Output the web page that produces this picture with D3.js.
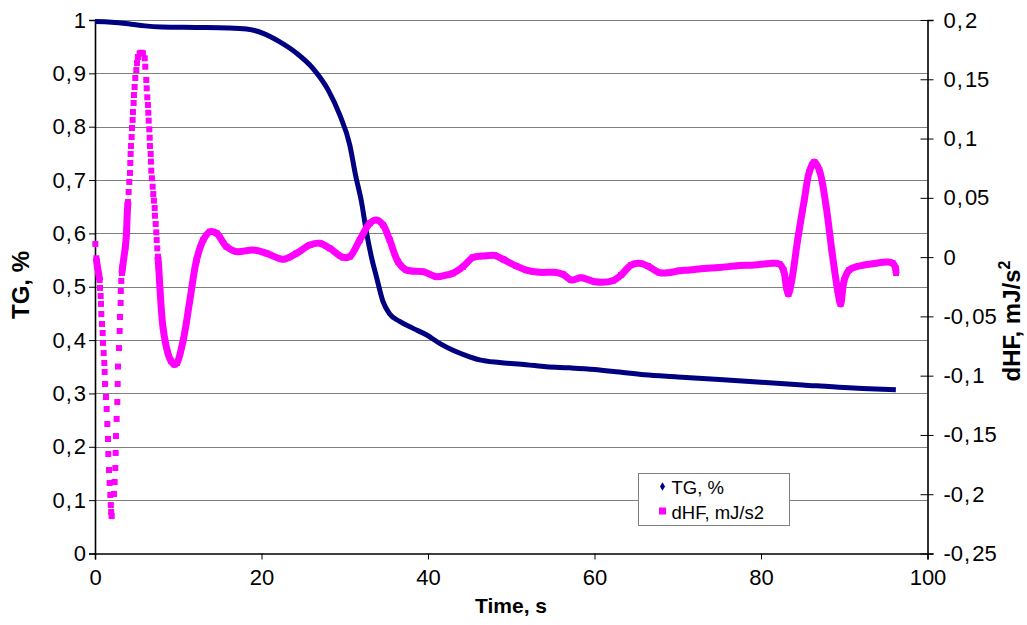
<!DOCTYPE html>
<html>
<head>
<meta charset="utf-8">
<script src="https://cdn.jsdelivr.net/npm/d3@7"></script>
<style>
  html, body { margin: 0; padding: 0; background: #fff; }
  svg { display: block; font-family: "Liberation Sans", Arial, sans-serif; }
</style>
</head>
<body>
<svg id="chart" width="1027" height="625"></svg>
<script>
// Thermogravimetric mass fraction (left axis) over time
const tgTime  = [0, 2, 4, 6, 8, 12, 16, 18.2, 20.2, 22.2, 24.2, 26.2, 28.0, 29.4, 30.6, 31.3, 32.0, 32.6, 33.2, 33.8, 34.6, 35.4, 36.6, 38.2, 39.8, 41.4, 43.0, 44.6, 46.2, 48.6, 51.8, 54.2, 57, 60, 63, 66, 70, 75, 80, 85, 90, 93, 96.2];
const tgValue = [0.997, 0.996, 0.993, 0.989, 0.987, 0.986, 0.985, 0.983, 0.975, 0.959, 0.938, 0.909, 0.869, 0.822, 0.766, 0.709, 0.660, 0.603, 0.556, 0.519, 0.472, 0.449, 0.435, 0.422, 0.410, 0.394, 0.381, 0.371, 0.363, 0.358, 0.354, 0.350, 0.348, 0.345, 0.340, 0.335, 0.331, 0.326, 0.321, 0.316, 0.311, 0.309, 0.307];

// Heat flow derivative (right axis) over time
const dhfTime = [0.04, 0.16, 0.24, 0.36, 0.56, 0.60, 0.68, 0.72, 0.76, 0.84, 0.92, 0.96, 1.04, 1.12, 1.16, 1.20, 1.32, 1.40, 1.48, 1.56, 1.60, 1.68, 1.76, 1.84, 1.90, 1.94, 2.00,
  2.28, 2.36, 2.44, 2.48, 2.52, 2.60, 2.68, 2.72, 2.76, 2.88, 2.96, 3.00, 3.08, 3.10, 3.16, 3.24, 3.32, 3.48, 3.64, 3.76, 3.80, 3.84, 3.88, 3.96,
  4.04, 4.12, 4.20, 4.24, 4.28, 4.32, 4.40, 4.44, 4.52, 4.56, 4.64, 4.68, 4.76, 4.84, 4.96, 5.04, 5.16, 5.37, 5.56, 5.76, 5.97,
  6.04, 6.16, 6.21, 6.28, 6.36, 6.40, 6.45, 6.52, 6.57, 6.60, 6.69, 6.72, 6.76, 6.84, 6.93, 7.00, 7.08, 7.17, 7.20, 7.29, 7.36, 7.41, 7.48, 7.56,
  7.65, 8.16, 8.76, 9.12, 9.54, 9.84, 10.6, 11.4, 12.2, 13.0, 13.8, 14.6, 15.8, 17.0, 19.0, 20.6, 22.6, 24.2, 25.8, 27.0, 28.2, 29.8, 30.6,
  31.8, 33.0, 33.8, 34.6, 35.4, 36.4, 37.4, 39.4, 41.0, 42.2, 43.0, 44.2, 45.4, 46.6, 48.0, 49.0, 50.6, 51.8, 53.4, 55.2, 56.2, 57.2, 58.4,
  60.0, 62.2, 63.2, 64.4, 65.4, 66.4, 67.8, 69.0, 70.2, 71.4, 73.2, 75.0, 77.4, 79.2, 81.0, 82.2, 82.7, 83.07, 83.3, 83.7, 84.4, 85.2, 85.8,
  86.4, 87.0, 87.8, 88.5, 89.2, 89.56, 90.0, 90.6, 91.8, 93.6, 95.2, 95.8, 96.16, 96.22];
const dhfValue = [0.0111, -0.0010, -0.0058, -0.0109, -0.0193, -0.0260, -0.0328, -0.0395, -0.0480, -0.0564, -0.0640, -0.0724, -0.0809, -0.0893, -0.0969, -0.1070, -0.1180, -0.1281, -0.1408, -0.1534, -0.1661, -0.1796, -0.1905, -0.2006, -0.2091, -0.2150, -0.2184,
  -0.1998, -0.1897, -0.1779, -0.1652, -0.1509, -0.1365, -0.1222, -0.1070, -0.0923, -0.0767, -0.0623, -0.0505, -0.0387, -0.0286, -0.0201, -0.0134, -0.0083, 0.0001, 0.0085, 0.0178, 0.0229, 0.0305, 0.0381, 0.0465,
  0.0549, 0.0634, 0.0710, 0.0794, 0.0870, 0.0937, 0.1013, 0.1089, 0.1157, 0.1224, 0.1300, 0.1367, 0.1435, 0.1511, 0.1578, 0.1637, 0.1688, 0.1719, 0.1724, 0.1719, 0.1677,
  0.1606, 0.1494, 0.1424, 0.1348, 0.1283, 0.1218, 0.1151, 0.1078, 0.1007, 0.0937, 0.0870, 0.0805, 0.0729, 0.0665, 0.0594, 0.0532, 0.0476, 0.0414, 0.0349, 0.0279, 0.0209, 0.0144, 0.0074, 0.0004,
  -0.0081, -0.0587, -0.0811, -0.0876, -0.0906, -0.0893, -0.0699, -0.0362, -0.0024, 0.0144, 0.0214, 0.0201, 0.0088, 0.0046, 0.0060, 0.0032, -0.0018, 0.0032, 0.0102, 0.0117, 0.0074, -0.0002, 0.0004,
  0.0144, 0.0285, 0.0313, 0.0271, 0.0144, -0.0039, -0.0109, -0.0123, -0.0165, -0.0151, -0.0136, -0.0081, -0.0002, 0.0009, 0.0015, -0.0018, -0.0075, -0.0109, -0.0128, -0.0128, -0.0145, -0.0193, -0.0174,
  -0.0207, -0.0199, -0.0151, -0.0067, -0.0052, -0.0075, -0.0131, -0.0131, -0.0115, -0.0109, -0.0096, -0.0088, -0.0071, -0.0067, -0.0054, -0.0058, -0.0109, -0.0260, -0.0311, -0.0193, 0.0144, 0.0482, 0.0718,
  0.0802, 0.0735, 0.0440, 0.0060, -0.0277, -0.0395, -0.0193, -0.0109, -0.0075, -0.0054, -0.0041, -0.0050, -0.0092, -0.0134];
// Time spans in which consecutive samples merge into a solid trace
const dhfSolidSpans = [[0.16, 0.56], [3.24, 3.96], [7.56, 96.22]];

const xTicks = [0, 20, 40, 60, 80, 100];
const leftTicks = [0, 0.1, 0.2, 0.3, 0.4, 0.5, 0.6, 0.7, 0.8, 0.9, 1];
const rightTicks = [-0.25, -0.2, -0.15, -0.1, -0.05, 0, 0.05, 0.1, 0.15, 0.2];

const seriesNames = ["TG, %", "dHF, mJ/s2"];
const navy = "#000080", magenta = "#FF00FF";

const svg = d3.select("#chart");
const plot = { left: 95, right: 927.5, top: 20, bottom: 553.5 };

const x = d3.scaleLinear().domain([0, 100]).range([plot.left, plot.right]);
const yL = d3.scaleLinear().domain([0, 1]).range([plot.bottom, plot.top]);
const yR = d3.scaleLinear().domain([-0.25, 0.2]).range([plot.bottom, plot.top]);
const comma = v => String(+v.toFixed(2)).replace(".", ",");

// horizontal gridlines on the left-axis ticks
svg.append("g").selectAll("line").data(leftTicks.filter(d => d > 0)).join("line")
  .attr("x1", plot.left).attr("x2", plot.right)
  .attr("y1", d => Math.round(yL(d)) + 0.5).attr("y2", d => Math.round(yL(d)) + 0.5)
  .attr("stroke", "#808080").attr("stroke-width", 1.2);

// tick label styling; the decimal comma gets a little extra room on each side
function styleTicks(g) {
  g.selectAll("text").attr("font-size", 22).attr("fill", "#000")
    .attr("font-family", "'Liberation Sans', Arial, sans-serif")
    .each(function () {
      const t = d3.select(this), s = t.text();
      const k = s.indexOf(",");
      if (k < 0) return;
      t.text(null);
      t.append("tspan").text(s.slice(0, k));
      t.append("tspan").attr("dx", 1).text(",");
      t.append("tspan").attr("dx", 2).text(s.slice(k + 1));
    });
}

const gx = svg.append("g").attr("transform", `translate(0,${plot.bottom})`)
  .call(d3.axisBottom(x).tickValues(xTicks).tickSize(6).tickPadding(10).tickFormat(d3.format("d")));
gx.call(styleTicks);

const gl = svg.append("g").attr("transform", `translate(${plot.left},0)`)
  .call(d3.axisLeft(yL).tickValues(leftTicks).tickSize(6).tickPadding(3).tickFormat(comma));
gl.call(styleTicks);

const gr = svg.append("g").attr("transform", `translate(${plot.right},0)`)
  .call(d3.axisRight(yR).tickValues(rightTicks).tickSize(6).tickPadding(10).tickFormat(comma));
gr.call(styleTicks);
gr.selectAll(".tick line").attr("x1", -7);

[gx, gl, gr].forEach(g => {
  g.select(".domain").attr("stroke", "#000").attr("stroke-width", 1.6);
  g.selectAll(".tick line").attr("stroke", "#000").attr("stroke-width", 1);
});

// TG curve
const tgData = tgTime.map((t, i) => [t, tgValue[i]]);
svg.append("path").datum(tgData)
  .attr("fill", "none").attr("stroke", navy).attr("stroke-width", 5)
  .attr("stroke-linejoin", "round")
  .attr("d", d3.line().x(d => x(d[0])).y(d => yL(d[1])).curve(d3.curveMonotoneX));

// dHF curve: solid where samples merge, single square markers elsewhere
const dhfData = dhfTime.map((t, i) => [t, dhfValue[i]]);
const dhfLine = d3.line().x(d => x(d[0])).y(d => yR(d[1])).curve(d3.curveCatmullRom.alpha(0.5));
svg.append("g").selectAll("path").data(dhfSolidSpans).join("path")
  .attr("fill", "none").attr("stroke", magenta).attr("stroke-width", 7)
  .attr("stroke-linejoin", "round")
  .attr("d", s => dhfLine(dhfData.filter(d => d[0] >= s[0] && d[0] <= s[1])));
const sq = 6;
svg.append("g").selectAll("rect").data(dhfData).join("rect")
  .attr("x", d => x(d[0]) - sq / 2).attr("y", d => yR(d[1]) - sq / 2)
  .attr("width", sq).attr("height", sq).attr("fill", magenta);

// axis titles
svg.append("text").attr("transform", "translate(29,285) rotate(-90)")
  .attr("text-anchor", "middle").attr("font-weight", "bold").attr("font-size", 24)
  .text("TG, %");
const rt = svg.append("text").attr("transform", "translate(1020,321) rotate(-90)")
  .attr("text-anchor", "middle").attr("font-weight", "bold").attr("font-size", 24);
rt.append("tspan").text("dHF, mJ/s");
rt.append("tspan").attr("dy", -10).attr("font-size", 16).text("2");
svg.append("text").attr("x", 511).attr("y", 613)
  .attr("text-anchor", "middle").attr("font-weight", "bold").attr("font-size", 21)
  .text("Time, s");

// legend
const lg = svg.append("g").attr("transform", "translate(638.5,473.5)");
lg.append("rect").attr("width", 151).attr("height", 52)
  .attr("fill", "#fff").attr("stroke", "#808080").attr("stroke-width", 1);
lg.append("path").attr("d", d3.symbol(d3.symbolDiamond, 22)()).attr("transform", "translate(24,13)").attr("fill", navy);
lg.append("rect").attr("x", 20.5).attr("y", 34).attr("width", 7).attr("height", 7).attr("fill", magenta);
lg.selectAll("text.item").data(seriesNames).join("text").attr("class", "item")
  .attr("x", 33).attr("y", (d, i) => 20 + i * 25).attr("font-size", 18.5).text(d => d);
</script>
</body>
</html>
